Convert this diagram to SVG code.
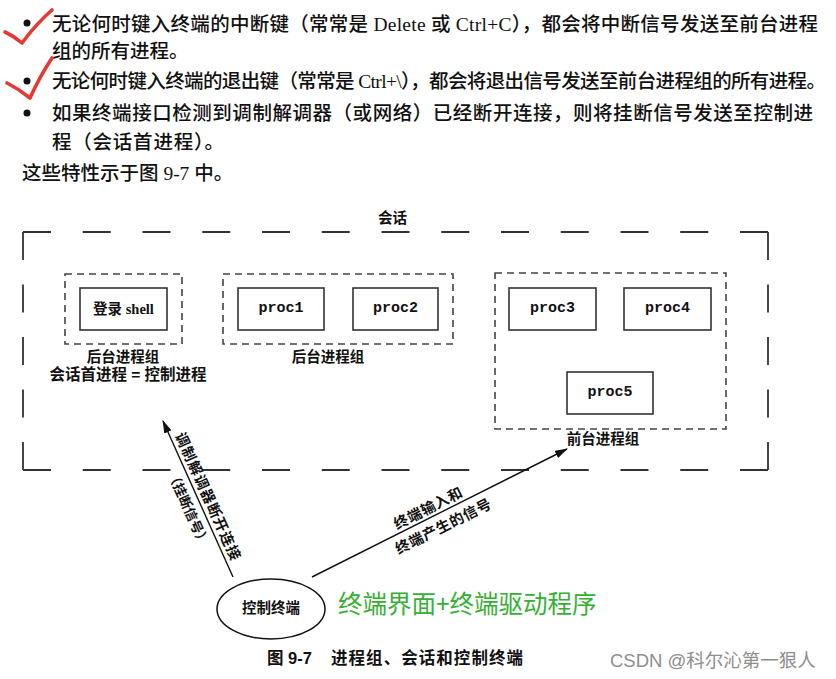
<svg xmlns="http://www.w3.org/2000/svg" width="836" height="679" viewBox="0 0 836 679">
<defs>
<style>
.body{font-family:"Liberation Serif","Noto Sans CJK SC",serif;font-size:19.5px;fill:#111;font-weight:500}
.lbl{font-family:"Liberation Sans","Noto Sans CJK SC",sans-serif;font-weight:bold;font-size:14.5px;fill:#111}
.ser{font-family:"Liberation Serif","Noto Sans CJK SC",serif;font-weight:bold;font-size:14.5px;fill:#111}
.mono{font-family:"Liberation Mono",monospace;font-weight:bold;font-size:15px;fill:#111}
.box{fill:none;stroke:#333;stroke-width:1.6}
.grp{fill:none;stroke:#444;stroke-width:1.6;stroke-dasharray:7 5}
.sess{stroke:#333;stroke-width:1.8;fill:none}
.conn{stroke:#111;stroke-width:1.4;fill:none}
.check{fill:none;stroke:#e53935;stroke-width:3.6;stroke-linecap:round;stroke-linejoin:round}
.mid{text-anchor:middle}
</style>
<marker id="arr" markerWidth="13" markerHeight="8" refX="12" refY="4" orient="auto" markerUnits="userSpaceOnUse"><path d="M0,0 L13,4 L0,8 z" fill="#111"/></marker>
</defs>
<rect width="836" height="679" fill="#fff"/>

<g id="text-block">
<circle cx="27" cy="23" r="3.5" fill="#111"/>
<circle cx="27" cy="81" r="3.5" fill="#111"/>
<circle cx="27" cy="113" r="3.5" fill="#111"/>
<text class="body" x="52" y="31" textLength="766" lengthAdjust="spacing">无论何时键入终端的中断键（常常是 Delete 或 Ctrl+C），都会将中断信号发送至前台进程</text>
<text class="body" x="52" y="58">组的所有进程。</text>
<text class="body" x="52" y="88" textLength="774" lengthAdjust="spacing">无论何时键入终端的退出键（常常是 Ctrl+\），都会将退出信号发送至前台进程组的所有进程。</text>
<text class="body" x="52" y="120" textLength="761" lengthAdjust="spacing">如果终端接口检测到调制解调器（或网络）已经断开连接，则将挂断信号发送至控制进</text>
<text class="body" x="52" y="149" textLength="172" lengthAdjust="spacing">程（会话首进程）。</text>
<text class="body" x="22" y="180">这些特性示于图 9-7 中。</text>
<path class="check" d="M5,32 Q14,36 22,43 Q36,24 52,10"/>
<path class="check" d="M7,83 Q19,89 30,98 Q40,76 52,58"/>
</g>

<g id="session">
<path class="sess" d="M23,232 H768 M23,470 H768" stroke-dasharray="28 31.75"/>
<path class="sess" d="M23,232 V470 M768,232 V470" stroke-dasharray="28 24.5"/>
<text class="lbl mid" x="392.5" y="223">会话</text>
</g>

<g id="bg-group-1">
<rect class="grp" x="65" y="274" width="117" height="70"/>
<text class="lbl mid" x="123" y="362">后台进程组</text>
<text class="lbl mid" x="128" y="380" style="font-size:15.5px">会话首进程 = 控制进程</text>
</g>
<g id="login-shell">
<rect class="box" x="80" y="288" width="87" height="42"/>
<text class="ser mid" x="123.5" y="314">登录 shell</text>
</g>

<g id="bg-group-2">
<rect class="grp" x="223" y="274" width="230" height="70"/>
<text class="lbl mid" x="328" y="362">后台进程组</text>
</g>
<g id="proc1">
<rect class="box" x="238" y="288" width="86" height="42"/>
<text class="mono mid" x="281" y="312">proc1</text>
</g>
<g id="proc2">
<rect class="box" x="353" y="288" width="85" height="42"/>
<text class="mono mid" x="395.5" y="312">proc2</text>
</g>

<g id="fg-group">
<rect class="grp" x="495" y="273" width="231" height="156"/>
<text class="lbl mid" x="603" y="444">前台进程组</text>
</g>
<g id="proc3">
<rect class="box" x="509" y="288" width="87" height="42"/>
<text class="mono mid" x="552.5" y="312">proc3</text>
</g>
<g id="proc4">
<rect class="box" x="624" y="288" width="87" height="42"/>
<text class="mono mid" x="667.5" y="312">proc4</text>
</g>
<g id="proc5">
<rect class="box" x="567" y="372" width="86" height="42"/>
<text class="mono mid" x="610" y="396">proc5</text>
</g>

<g id="terminal">
<ellipse cx="271" cy="609" rx="54" ry="30" fill="#fff" stroke="#111" stroke-width="1.5"/>
<text class="lbl mid" x="271" y="613">控制终端</text>
</g>

<g id="connectors">
<path class="conn" d="M233,577 L163,421" marker-end="url(#arr)"/>
<g transform="translate(197.3,497) rotate(65.7)">
<text class="lbl mid" x="4.2" y="-4.8" letter-spacing="1">调制解调器断开连接</text>
<text class="lbl mid" x="6.6" y="17.8" style="font-size:13.5px">（挂断信号）</text>
</g>
<path class="conn" d="M312,577 L567,449" marker-end="url(#arr)"/>
<g transform="translate(440,512.7) rotate(-26.66)">
<text class="lbl mid" x="-8.4" y="-4.2" letter-spacing="0.6">终端输入和</text>
<text class="lbl mid" x="-3.1" y="18.8" letter-spacing="0.6">终端产生的信号</text>
</g>
</g>

<text x="338" y="613" font-family="Noto Sans CJK SC, sans-serif" font-size="24.5" fill="#35b035">终端界面+终端驱动程序</text>
<text class="lbl" x="267" y="664" style="font-size:16.5px">图 9-7</text>
<text class="lbl" x="331" y="664" style="font-size:16.5px" textLength="192" lengthAdjust="spacing">进程组、会话和控制终端</text>
<text x="610" y="667" font-family="Liberation Sans, Noto Sans CJK SC, sans-serif" font-size="18.5" fill="#8e8e8e">CSDN @科尔沁第一狠人</text>
</svg>
